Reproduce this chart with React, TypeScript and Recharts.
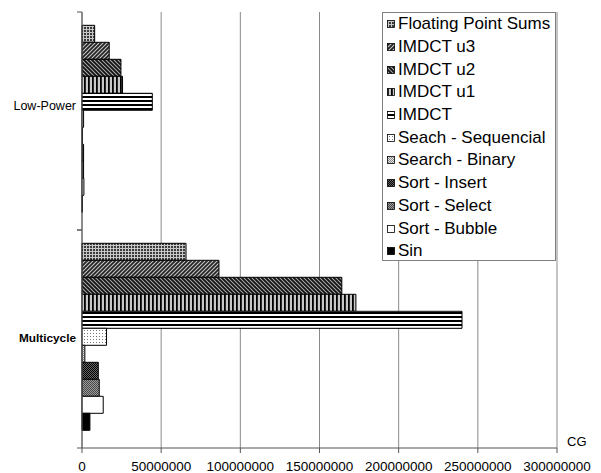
import React from "react";
import { BarChart, Bar, XAxis, YAxis, CartesianGrid } from "recharts";

const categories = ["Low-Power", "Multicycle"];

const seriesNames = [
  "Floating Point Sums",
  "IMDCT u3",
  "IMDCT u2",
  "IMDCT u1",
  "IMDCT",
  "Seach - Sequencial",
  "Search - Binary",
  "Sort - Insert",
  "Sort - Select",
  "Sort - Bubble",
  "Sin",
];

// CG per benchmark, same order as seriesNames
const lowPowerValues = [
  8000000, 17200000, 24600000, 25600000, 44400000, 1000000, 300000, 1000000,
  1000000, 1200000, 200000,
];
const multicycleValues = [
  65700000, 86500000, 164100000, 173000000, 240000000, 15500000, 1800000,
  10300000, 10900000, 13400000, 5000000,
];

const xTicks = [
  0, 50000000, 100000000, 150000000, 200000000, 250000000, 300000000,
];

const fills = [
  "url(#p-fps)",
  "url(#p-u3)",
  "url(#p-u2)",
  "url(#p-u1)",
  "url(#p-imdct)",
  "url(#p-seq)",
  "url(#p-bin)",
  "url(#p-ins)",
  "url(#p-sel)",
  "#ffffff",
  "#000000",
];

const FONT = "'Liberation Sans', Arial, sans-serif";
const W = 601;
const H = 473;
const LEFT = 82;
const TOP = 12;
const AXIS_H = 25;
const PLOT_H = H - TOP - AXIS_H;
const BAND = PLOT_H / categories.length;

// Excel-like label placement per category
const labelShift: Record<string, number> = { "Low-Power": -15, Multicycle: -1 };
const labelWeight: Record<string, string> = { "Low-Power": "normal", Multicycle: "bold" };
const labelSize: Record<string, number> = { "Low-Power": 12.5, Multicycle: 11.8 };

const data = categories.map((name, i) => {
  const vals = i === 0 ? lowPowerValues : multicycleValues;
  const row: Record<string, string | number> = { name };
  seriesNames.forEach((_, j) => {
    row["s" + j] = vals[j];
  });
  return row;
});

function CategoryTick(props: any) {
  const { y, payload } = props;
  const name = payload.value as string;
  return (
    <g>
      <line x1={LEFT - 5} x2={LEFT} y1={y - BAND / 2} y2={y - BAND / 2} stroke="#555" />
      <line x1={LEFT - 5} x2={LEFT} y1={y + BAND / 2} y2={y + BAND / 2} stroke="#555" />
      <text
        x={LEFT - 6}
        y={y + (labelShift[name] ?? 0)}
        textAnchor="end"
        dominantBaseline="central"
        fontFamily={FONT}
        fontSize={labelSize[name] ?? 12}
        fontWeight={labelWeight[name]}
        fill="#000"
      >
        {name}
      </text>
    </g>
  );
}

function Patterns() {
  return (
    <svg width={0} height={0} style={{ position: "absolute" }}>
      <defs>
        <pattern id="p-fps" width={3} height={3} patternUnits="userSpaceOnUse">
          <rect width={3} height={3} fill="#c8c8c8" />
          <rect width={2} height={2} fill="#3a3a3a" />
        </pattern>
        <pattern id="p-u3" width={4} height={4} patternUnits="userSpaceOnUse">
          <rect width={4} height={4} fill="#c4c4c4" />
          <path d="M-1,1 l2,-2 M0,4 l4,-4 M3,5 l2,-2" stroke="#222" strokeWidth={1.7} />
        </pattern>
        <pattern id="p-u2" width={4} height={4} patternUnits="userSpaceOnUse">
          <rect width={4} height={4} fill="#aaa" />
          <path d="M-1,3 l2,2 M0,0 l4,4 M3,-1 l2,2" stroke="#111" strokeWidth={1.8} />
        </pattern>
        <pattern id="p-u1" width={4} height={4} patternUnits="userSpaceOnUse">
          <rect width={4} height={4} fill="#c8c8c8" />
          <rect width={1.8} height={4} fill="#000" />
        </pattern>
        <pattern id="p-imdct" width={4} height={4} patternUnits="userSpaceOnUse">
          <rect width={4} height={4} fill="#fff" />
          <rect width={4} height={2} fill="#000" />
        </pattern>
        <pattern id="p-seq" width={3} height={3} patternUnits="userSpaceOnUse">
          <rect width={3} height={3} fill="#fff" />
          <rect width={1} height={1} fill="#777" />
        </pattern>
        <pattern id="p-bin" width={2} height={2} patternUnits="userSpaceOnUse">
          <rect width={2} height={2} fill="#e6e6e6" />
          <rect width={1} height={1} fill="#888" />
          <rect x={1} y={1} width={1} height={1} fill="#888" />
        </pattern>
        <pattern id="p-ins" width={2} height={2} patternUnits="userSpaceOnUse">
          <rect width={2} height={2} fill="#666" />
          <rect width={1} height={1} fill="#000" />
          <rect x={1} y={1} width={1} height={1} fill="#000" />
        </pattern>
        <pattern id="p-sel" width={2} height={2} patternUnits="userSpaceOnUse">
          <rect width={2} height={2} fill="#999" />
          <rect width={1} height={1} fill="#4a4a4a" />
          <rect x={1} y={1} width={1} height={1} fill="#4a4a4a" />
        </pattern>
      </defs>
    </svg>
  );
}

function LegendBox() {
  return (
    <div
      style={{
        position: "absolute",
        left: 382,
        top: 12,
        width: 174,
        height: 249,
        background: "#fff",
        border: "1px solid #808080",
        boxSizing: "border-box",
      }}
    >
      {seriesNames.map((name, i) => (
        <div
          key={name}
          style={{
            display: "flex",
            alignItems: "center",
            height: 22.7,
            fontFamily: FONT,
            fontSize: 17,
            color: "#000",
            whiteSpace: "nowrap",
          }}
        >
          <svg width={14} height={10} style={{ flex: "none" }}>
            <rect x={4.5} y={1.5} width={7} height={7} fill={fills[i]} stroke="#000" strokeWidth={0.8} />
          </svg>
          <span style={{ marginLeft: 1 }}>{name}</span>
        </div>
      ))}
    </div>
  );
}

export default function App() {
  return (
    <div style={{ position: "absolute", left: 0, top: 0, width: W, height: H, background: "#fff" }}>
      <Patterns />
      <BarChart
        width={W}
        height={H}
        data={data}
        layout="vertical"
        margin={{ top: TOP, right: 44, bottom: 0, left: 0 }}
        barCategoryGap="6.1%"
        barGap={0}
      >
        <CartesianGrid horizontal={false} vertical stroke="#8a8a8a" />
        <XAxis
          type="number"
          domain={[0, 300000000]}
          ticks={xTicks}
          interval={0}
          height={AXIS_H}
          tickSize={5}
          tickMargin={8}
          stroke="#555"
          tick={{ fontFamily: FONT, fontSize: 13.5, fill: "#000" }}
          label={{
            value: "CG",
            position: "right",
            dx: 5,
            dy: -19,
            style: { fontFamily: FONT, fontSize: 13, fill: "#000" },
          }}
        />
        <YAxis
          type="category"
          dataKey="name"
          width={LEFT}
          stroke="#555"
          tickLine={false}
          tick={<CategoryTick />}
        />
        {seriesNames.map((name, i) => (
          <Bar
            key={name}
            dataKey={"s" + i}
            name={name}
            fill={fills[i]}
            stroke="#000"
            strokeWidth={1}
            isAnimationActive={false}
          />
        ))}
      </BarChart>
      <LegendBox />
    </div>
  );
}
